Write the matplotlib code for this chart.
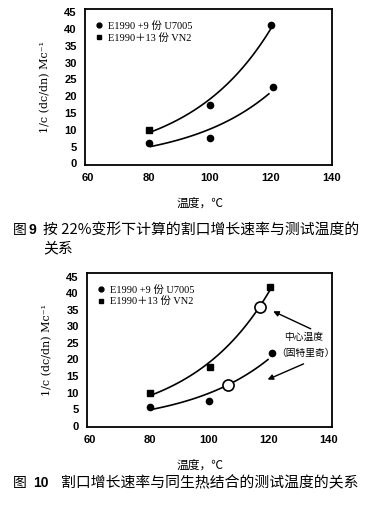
import numpy as np
import matplotlib
matplotlib.use("Agg")
from matplotlib import pyplot as plt
from matplotlib.lines import Line2D

plt.rcParams['font.family'] = ['Liberation Sans', 'Noto Sans CJK SC', 'DejaVu Sans']

# --- data ---
# figure 9
u7005_9 = [6, 7.4, 22.8]
vn2_9 = [10, 17.3, 41.1]
u7005_9_x = [80, 100, 120.5]
vn2_9_x = [80, 100, 120]
vn2_9_markers = ['s', 'o', 'o']
# figure 10
u7005_10 = [5.7, 7.6, 22]
vn2_10 = [9.8, 17.6, 41.8]
u7005_10_x = [80, 100, 121.3]
vn2_10_x = [80, 100.3, 120.5]
# centre temperatures (Goodrich) marked on the fitted curves
centre_temp = [106.5, 117]

leg_labels = ["E1990 +9 份 U7005", "E1990＋13 份 VN2"]
xticks = [60, 80, 100, 120, 140]
yticks = [0, 5, 10, 15, 20, 25, 30, 35, 40, 45]

serif_cjk = ['Liberation Serif', 'Noto Sans CJK SC']
cjk = ['Noto Sans CJK SC', 'DejaVu Sans']

W, H = 375, 505


def px(x, y):
    return x / W, 1 - y / H


def expfit(xs, ys):
    # exponential trend line
    k, b = np.polyfit(xs, np.log(ys), 1, w=np.sqrt(ys))
    return lambda x: np.exp(k * np.asarray(x) + b)


def style_axes(ax, xlim, ylim):
    ax.set_xlim(*xlim)
    ax.set_ylim(*ylim)
    ax.set_xticks(xticks)
    ax.set_yticks(yticks)
    ax.tick_params(length=0, labelsize=8, pad=6)
    for lab in ax.get_xticklabels() + ax.get_yticklabels():
        lab.set_fontweight('bold')
    for s in ax.spines.values():
        s.set_linewidth(1.3)


def legend(ax):
    h = [Line2D([], [], ls='none', marker='o', color='k', ms=3.5),
         Line2D([], [], ls='none', marker='s', color='k', ms=3.5)]
    ax.legend(h, leg_labels, loc='upper left', frameon=False,
              prop={'family': serif_cjk, 'size': 7.5}, handlelength=0.6,
              handletextpad=0.6, labelspacing=0.2, borderaxespad=0.6,
              bbox_to_anchor=(0.0, 0.99))


fig = plt.figure(figsize=(3.75, 5.05), dpi=100)
ylab = "1/c (dc/dn) Mc⁻¹"

# ---------------- figure 9 ----------------
ax1 = fig.add_axes([85 / W, 1 - 165 / H, 247 / W, 156 / H])
style_axes(ax1, (59, 140), (-0.5, 46))
f_up = expfit(vn2_9_x, vn2_9)
f_lo = expfit(u7005_9_x, u7005_9)
xs = np.linspace(80.5, 120, 60)
ax1.plot(xs, f_up(xs), color='k', lw=1.2)
xs = np.linspace(80.5, 119.3, 60)
ax1.plot(xs, f_lo(xs), color='k', lw=1.2)
ax1.plot(u7005_9_x, u7005_9, 'o', color='k', ms=4.5)
for x, y, m in zip(vn2_9_x, vn2_9, vn2_9_markers):
    ax1.plot(x, y, m, color='k', ms=4.5)
legend(ax1)
ax1.set_ylabel(ylab, family='DejaVu Serif', fontsize=8, labelpad=10)

fig.text(*px(200, 203), "温度，℃", family=cjk, fontsize=8.5, ha='center', va='center')
fig.text(*px(13, 230), "图", family=cjk, fontsize=10, va='center')
fig.text(*px(28, 230), "9", fontsize=10, fontweight='bold', va='center')
fig.text(*px(43, 230), "按 22%变形下计算的割口增长速率与测试温度的",
         family=cjk, fontsize=10.7, va='center')
fig.text(*px(43, 248), "关系", family=cjk, fontsize=10.7, va='center')

# ---------------- figure 10 ----------------
ax2 = fig.add_axes([87 / W, 1 - 427 / H, 245 / W, 154.3 / H])
style_axes(ax2, (59, 141.3), (-0.4, 46.2))
f_up = expfit(vn2_10_x, vn2_10)
f_lo = expfit(u7005_10_x, u7005_10)
xs = np.linspace(80.5, 120.5, 60)
ax2.plot(xs, f_up(xs), color='k', lw=1.2)
xs = np.linspace(80.5, 119.8, 60)
ax2.plot(xs, f_lo(xs), color='k', lw=1.2)
ax2.plot(u7005_10_x, u7005_10, 'o', color='k', ms=4.5)
ax2.plot(vn2_10_x, vn2_10, 's', color='k', ms=4.5)
ax2.plot(centre_temp[0], f_lo(centre_temp[0]), 'o', mfc='white', mec='k', ms=8, mew=1.2)
ax2.plot(centre_temp[1], f_up(centre_temp[1]), 'o', mfc='white', mec='k', ms=8, mew=1.2)
legend(ax2)
ax2.set_ylabel(ylab, family='DejaVu Serif', fontsize=8, labelpad=10)

ax2.text(131.6, 26.9, "中心温度", family=cjk, fontsize=7, ha='center', va='center')
ax2.text(122.6, 22, "（固特里奇）", family=cjk, fontsize=7, ha='left', va='center')
arrow = dict(arrowstyle='-|>', lw=1.0, color='k', mutation_scale=8)
ax2.annotate("", xy=(120.7, 34.9), xytext=(135, 28.9), arrowprops=arrow)
ax2.annotate("", xy=(118.8, 13.6), xytext=(132.6, 19.0), arrowprops=arrow)

fig.text(*px(200, 465), "温度，℃", family=cjk, fontsize=8.5, ha='center', va='center')
fig.text(*px(13, 483), "图", family=cjk, fontsize=10, va='center')
fig.text(*px(33, 483), "10", fontsize=10, fontweight='bold', va='center')
fig.text(*px(61, 483), "割口增长速率与同生热结合的测试温度的关系",
         family=cjk, fontsize=10.7, va='center')

fig.savefig("out.png", dpi=100)
